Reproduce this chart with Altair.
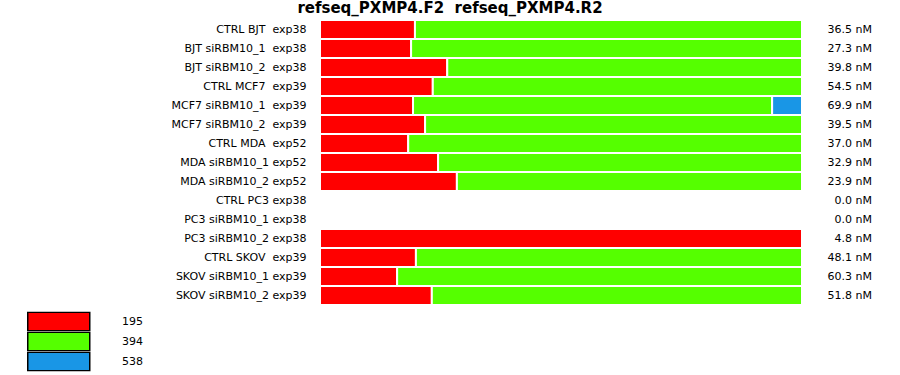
import altair as alt
import pandas as pd

NB = "\u00a0"
samples = [
    "CTRL BJT" + NB + " exp38",
    "BJT siRBM10_1" + NB + " exp38",
    "BJT siRBM10_2" + NB + " exp38",
    "CTRL MCF7" + NB + " exp39",
    "MCF7 siRBM10_1" + NB + " exp39",
    "MCF7 siRBM10_2" + NB + " exp39",
    "CTRL MDA" + NB + " exp52",
    "MDA siRBM10_1 exp52",
    "MDA siRBM10_2 exp52",
    "CTRL PC3 exp38",
    "PC3 siRBM10_1 exp38",
    "PC3 siRBM10_2 exp38",
    "CTRL SKOV" + NB + " exp39",
    "SKOV siRBM10_1 exp39",
    "SKOV siRBM10_2 exp39",
]
conc = ["36.5 nM", "27.3 nM", "39.8 nM", "54.5 nM", "69.9 nM", "39.5 nM", "37.0 nM",
        "32.9 nM", "23.9 nM", "0.0 nM", "0.0 nM", "4.8 nM", "48.1 nM", "60.3 nM", "51.8 nM"]
frac_195 = [0.197, 0.189, 0.264, 0.234, 0.193, 0.218, 0.183, 0.245, 0.284, 0.0, 0.0, 1.0, 0.199, 0.160, 0.232]
frac_394 = [0.803, 0.811, 0.736, 0.766, 0.745, 0.782, 0.817, 0.755, 0.716, 0.0, 0.0, 0.0, 0.801, 0.840, 0.768]
frac_538 = [0.0, 0.0, 0.0, 0.0, 0.062, 0.0, 0.0, 0.0, 0.0, 0.0, 0.0, 0.0, 0.0, 0.0, 0.0]
products = ["195", "394", "538"]
colors = ["#ff0000", "#55ff00", "#1996e6"]

rows = []
for i, s in enumerate(samples):
    for k, (p, arr) in enumerate(zip(products, [frac_195, frac_394, frac_538])):
        if arr[i] > 0:
            rows.append({"sample": s, "product": p, "k": k, "frac": arr[i]})
df = pd.DataFrame(rows)
df_conc = pd.DataFrame({"sample": samples, "conc": conc})

yscale = alt.Scale(domain=samples, paddingInner=0, paddingOuter=0)
FONT = "DejaVu Sans"

bars = alt.Chart(df).mark_bar(stroke="white", strokeWidth=2, cornerRadius=0).encode(
    y=alt.Y("sample:N", scale=yscale, title=None,
            axis=alt.Axis(ticks=False, domain=False, labelPadding=14, labelFont=FONT,
                          labelFontSize=11, labelColor="black", labelLimit=300)),
    x=alt.X("frac:Q", stack="zero", scale=alt.Scale(domain=[0, 1], nice=False), axis=None),
    color=alt.Color("product:N", scale=alt.Scale(domain=products, range=colors),
                    legend=alt.Legend(orient="none", legendX=-294, legendY=291.5, title=None,
                                      symbolType="M-0.85,-1.85L11.55,-1.85L11.55,1.85L-0.85,1.85Z",
                                      symbolSize=100, symbolStrokeColor="black",
                                      symbolStrokeWidth=1.5, labelOffset=84, labelFontSize=11,
                                      labelFont=FONT, labelColor="black", rowPadding=0,
                                      clipHeight=20, padding=0, symbolOpacity=1)),
    order=alt.Order("k:Q"),
)

texts = alt.Chart(df_conc).mark_text(align="right", baseline="middle", font=FONT,
                                     fontSize=11, color="black").encode(
    y=alt.Y("sample:N", scale=yscale),
    x=alt.value(552),
    text="conc:N",
)

chart = alt.layer(bars, texts).properties(
    width=482, height=285,
    padding={"left": 320, "top": 20, "right": 98, "bottom": 70},
    autosize="none",
    title=alt.Title("refseq_PXMP4.F2" + NB + " refseq_PXMP4.R2", font=FONT, fontSize=15,
                    fontWeight="bold", color="black", anchor="middle", dx=-111, offset=3),
).configure_view(strokeWidth=0)

chart.save("out.html", embed_options={"renderer": "svg", "actions": False})
